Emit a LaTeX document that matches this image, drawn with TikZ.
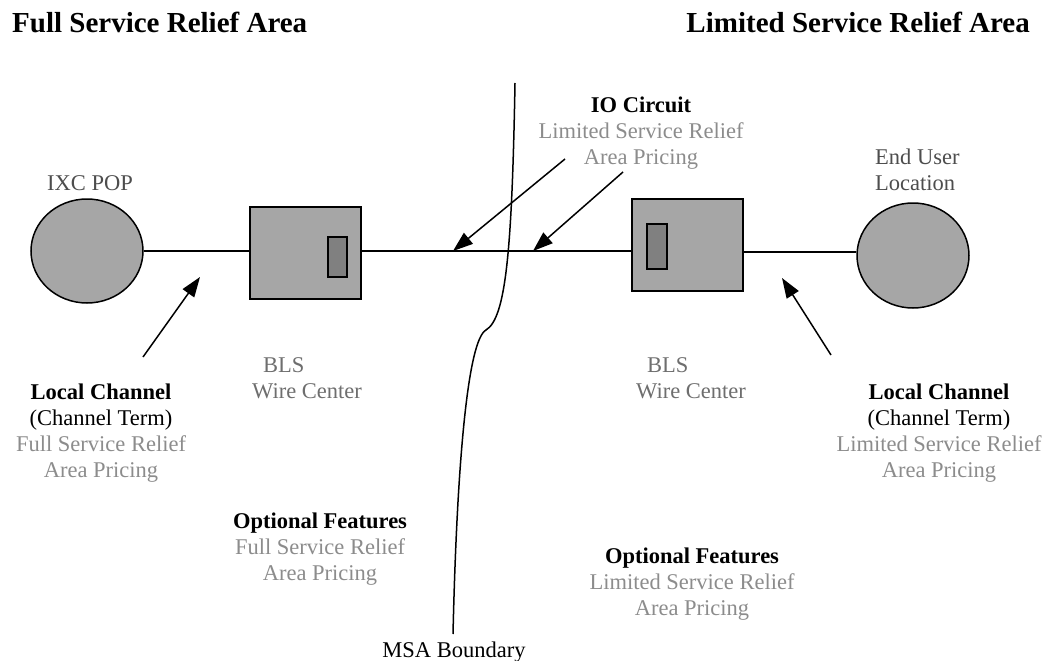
\documentclass[tikz,border=0pt]{standalone}
\usepackage{fontspec}
\setmainfont{Liberation Serif}
\usetikzlibrary{shapes.geometric,arrows.meta}

\definecolor{shapefill}{RGB}{166,166,166}
\definecolor{portfill}{RGB}{128,128,128}
\definecolor{txtdark}{RGB}{77,77,77}
\definecolor{txtmid}{RGB}{110,110,110}
\definecolor{txtlight}{RGB}{140,140,140}

\tikzset{
  site/.style={ellipse,draw,fill=shapefill,line width=1.5pt,minimum width=112pt,minimum height=104pt,inner sep=0pt},
  office/.style={rectangle,draw,fill=shapefill,line width=1.5pt,minimum width=111pt,minimum height=92pt,inner sep=0pt},
  port/.style={rectangle,draw,fill=portfill,line width=1.5pt,inner sep=0pt},
  txt/.style={font=\fontsize{22.5}{26}\selectfont,inner sep=0pt},
  heading/.style={font=\fontsize{29}{33}\selectfont\bfseries,inner sep=0pt},
  wire/.style={line width=1.5pt},
  pointer/.style={line width=1.5pt,-{Triangle[length=20pt,width=14pt]}}
}

\begin{document}
\begin{tikzpicture}[x=1pt,y=-1pt]
    \useasboundingbox (0,0) rectangle (1058,661);
    % area headings
    \node[heading,anchor=base west] (fullhdr) at (12,33) {Full Service Relief Area};
    \node[heading,anchor=base east] (limhdr) at (1030,33) {Limited Service Relief Area};
    % sites and wire centers
    \node[site] (ixc) at (87,251) {};
    \node[office] (bls1) at (305.5,253) {};
    \node[port,minimum width=19pt,minimum height=40pt] (port1) at (337.5,257) {};
    \node[office] (bls2) at (687.5,245) {};
    \node[port,minimum width=20pt,minimum height=45pt] (port2) at (657,246.5) {};
    \node[site,minimum height=105pt] (eu) at (913,255.5) {};
    % circuit
    \coordinate (lineL) at (0,251);
    \coordinate (lineR) at (0,252);
    \draw[wire] (ixc.east |- lineL) -- (bls1.west |- lineL);
    \draw[wire] (bls1.east |- lineL) -- (bls2.west |- lineL);
    \draw[wire] (bls2.east |- lineR) -- (eu.west |- lineR);
    % MSA boundary
    \coordinate (msatop) at (515,83);
    \coordinate (msakink) at (486,330);
    \coordinate (msabot) at (453,634);
    \draw[wire] (msatop) .. controls (512,250) and (506,318) .. (msakink)
        .. controls (468,340) and (457,460) .. (msabot);
    % labels
    \node[txt,text=txtdark,anchor=base] (ixclbl) at (90,190) {IXC POP};
    \node[txt,text=txtdark,align=left,anchor=north west] (eulbl) at (875,148.7) {End User\\Location};
    \node[txt,align=center,anchor=north] (iolbl) at (641,96.8)
        {\textbf{IO Circuit}\\\textcolor{txtlight}{Limited Service Relief}\\\textcolor{txtlight}{Area Pricing}};
    \node[txt,text=txtmid,align=left,anchor=north west] (bls1lbl) at (252,357.7) {\hspace*{11pt}BLS\\Wire Center};
    \node[txt,text=txtmid,align=left,anchor=north west] (bls2lbl) at (636,357.7) {\hspace*{11pt}BLS\\Wire Center};
    \node[txt,align=center,anchor=north] (lc1lbl) at (101,383.7)
        {\textbf{Local Channel}\\(Channel Term)\\\textcolor{txtlight}{Full Service Relief}\\\textcolor{txtlight}{Area Pricing}};
    \node[txt,align=center,anchor=north] (lc2lbl) at (939,383.7)
        {\textbf{Local Channel}\\(Channel Term)\\\textcolor{txtlight}{Limited Service Relief}\\\textcolor{txtlight}{Area Pricing}};
    \node[txt,align=center,anchor=north] (of1lbl) at (320,512.7)
        {\textbf{Optional Features}\\\textcolor{txtlight}{Full Service Relief}\\\textcolor{txtlight}{Area Pricing}};
    \node[txt,align=center,anchor=north] (of2lbl) at (692,547.7)
        {\textbf{Optional Features}\\\textcolor{txtlight}{Limited Service Relief}\\\textcolor{txtlight}{Area Pricing}};
    \node[txt,anchor=base] (msalbl) at (454,657) {MSA Boundary};
    % pointers
    \coordinate (lc1tip) at (200,277);
    \coordinate (lc1tail) at (143,357);
    \coordinate (lc2tip) at (782,278);
    \coordinate (lc2tail) at (831,355);
    \coordinate (io1tip) at (453,251);
    \coordinate (io1tail) at (565,159);
    \coordinate (io2tip) at (533,251);
    \coordinate (io2tail) at (623,172);
    \draw[pointer] (lc1tail) -- (lc1tip);
    \draw[pointer] (lc2tail) -- (lc2tip);
    \draw[pointer] (io1tail) -- (io1tip);
    \draw[pointer] (io2tail) -- (io2tip);
\end{tikzpicture}
\end{document}
